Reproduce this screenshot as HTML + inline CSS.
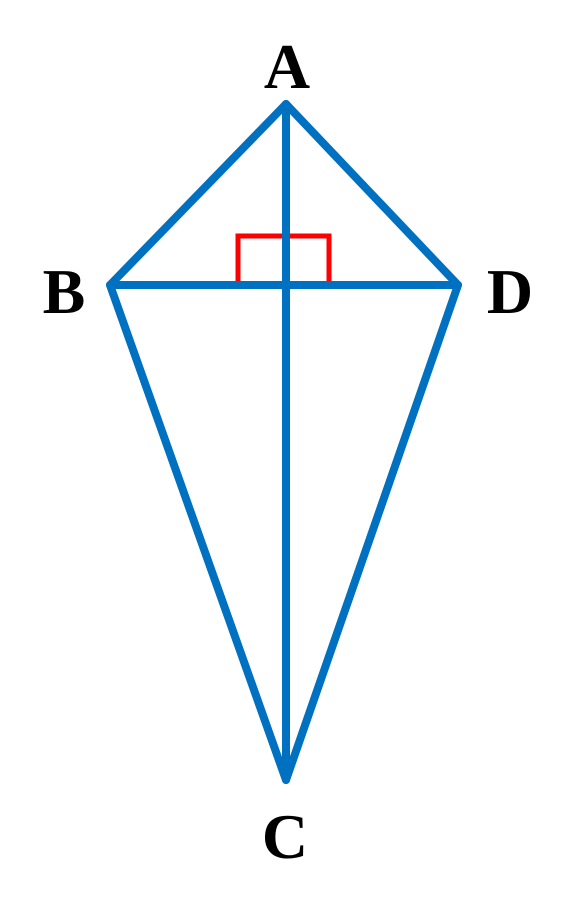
<!DOCTYPE html>
<html><head><style>body{margin:0;background:#fff}svg{display:block}</style></head>
<body>
<svg width="575" height="913" viewBox="0 0 575 913">
<g font-family="Liberation Serif, serif" font-weight="bold" font-size="64" fill="#000" text-anchor="middle">
<text x="287" y="88">A</text>
<text x="64" y="313">B</text>
<text x="510" y="313">D</text>
<text x="285" y="858">C</text>
</g>
<polyline points="238,285 238,236 329,236 329,285" fill="none" stroke="#ff0000" stroke-width="5"/>
<g stroke="#0070c0" stroke-width="8" fill="none" stroke-linejoin="round" stroke-linecap="round">
<polygon points="286,104 458,285 286,780 110,285"/>
<line x1="110" y1="285" x2="458" y2="285"/>
<line x1="286" y1="104" x2="286" y2="780"/>
</g>
</svg>
</body></html>
